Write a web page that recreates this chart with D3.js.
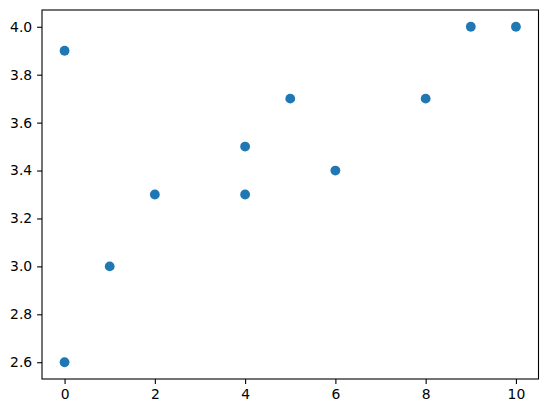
<!DOCTYPE html>
<html>
<head>
    <script src="https://d3js.org/d3.v7.min.js"></script>
    <style>
        body { margin: 0; background: #fff; }
    </style>
</head>
<body>
    <div id="chart"></div>
    <script>
        var xValues = [0, 0, 1, 2, 4, 4, 5, 6, 8, 9, 10];
        var yValues = [3.9, 2.6, 3.0, 3.3, 3.5, 3.3, 3.7, 3.4, 3.7, 4.0, 4.0];
        var xTicks = [0, 2, 4, 6, 8, 10];
        var yTicks = [2.6, 2.8, 3.0, 3.2, 3.4, 3.6, 3.8, 4.0];

        var width = 547, height = 413;
        var plotLeft = 42, plotRight = 538.5, plotTop = 10, plotBottom = 379;

        var svg = d3.select("#chart").append("svg")
            .attr("width", width)
            .attr("height", height);

        var x = d3.scaleLinear().domain([-0.5, 10.5]).range([plotLeft, plotRight]);
        var y = d3.scaleLinear().domain([2.53, 4.07]).range([plotBottom, plotTop]);

        var xAxis = d3.axisBottom(x).tickValues(xTicks).tickSize(4.9).tickPadding(4.9)
            .tickFormat(d3.format("d"));
        var yAxis = d3.axisLeft(y).tickValues(yTicks).tickSize(4.9).tickPadding(4.9)
            .tickFormat(d3.format(".1f"));

        var gx = svg.append("g").attr("transform", "translate(0," + plotBottom + ")").call(xAxis);
        var gy = svg.append("g").attr("transform", "translate(" + plotLeft + ",0)").call(yAxis);
        [gx, gy].forEach(function(g) {
            g.attr("font-size", 13.9).attr("font-family", "DejaVu Sans, sans-serif");
            g.select(".domain").remove();
            g.selectAll(".tick line").attr("stroke", "#000").attr("stroke-width", 1.1);
            g.selectAll(".tick text").attr("fill", "#000");
        });
        gx.selectAll(".tick text").attr("dy", "0.76em");

        // frame
        svg.append("rect")
            .attr("x", plotLeft).attr("y", plotTop)
            .attr("width", plotRight - plotLeft).attr("height", plotBottom - plotTop)
            .attr("fill", "none").attr("stroke", "#000").attr("stroke-width", 1.1);

        svg.append("g").selectAll("circle")
            .data(xValues.map(function(d, i) { return [d, yValues[i]]; }))
            .enter().append("circle")
            .attr("cx", function(d) { return x(d[0]); })
            .attr("cy", function(d) { return y(d[1]); })
            .attr("r", 4.9)
            .attr("fill", "#1f77b4");
    </script>
</body>
</html>
